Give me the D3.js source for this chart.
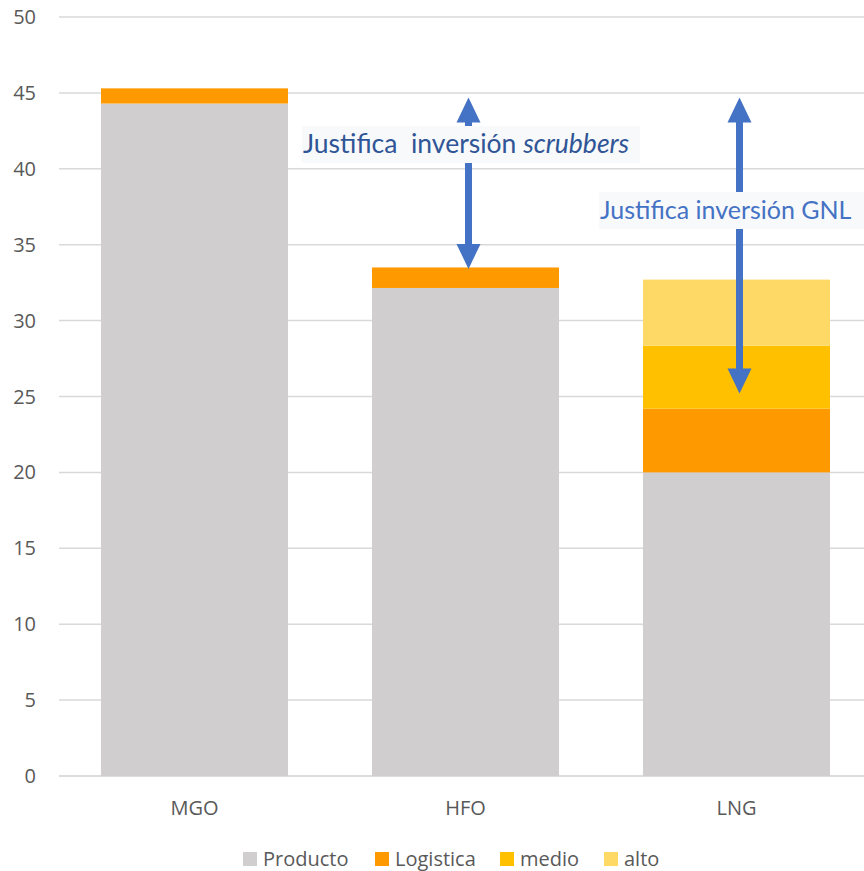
<!DOCTYPE html>
<html>
<head>
<meta charset="utf-8">
<script src="https://cdn.jsdelivr.net/npm/d3@7"></script>
<style>
  html, body { margin: 0; padding: 0; background: #ffffff; }
  svg { display: block; font-family: "Open Sans", "DejaVu Sans", sans-serif; }
</style>
</head>
<body>
<svg id="chart" width="864" height="871"></svg>
<script>
// Cost composition per fuel
const categories = ["MGO", "HFO", "LNG"];
const seriesNames = ["Producto", "Logistica", "medio", "alto"];
const producto  = [44.3, 32.15, 20.0];
const logistica = [1.0, 1.35, 4.2];
const medio     = [0, 0, 4.15];
const alto      = [0, 0, 4.35];
const yTicks = [0, 5, 10, 15, 20, 25, 30, 35, 40, 45, 50];
const colors = ["#d0cece", "#ff9900", "#ffc000", "#ffd966"];

// Annotation arrows: category, top value, bottom value
const arrowCats = ["HFO", "LNG"];
const arrowTop = [44.7, 44.7];
const arrowBottom = [33.4, 25.2];

const svg = d3.select("#chart");
const x = d3.scaleBand().domain(categories).range([59, 872]).paddingInner(0.31).paddingOuter(0.155);
const y = d3.scaleLinear().domain([0, 50]).range([776, 17]);

// Gridlines
svg.append("g").selectAll("line").data(yTicks).join("line")
  .attr("x1", 59).attr("x2", 872)
  .attr("y1", d => y(d)).attr("y2", d => y(d))
  .attr("stroke", d => d === 0 ? "#d0d0d0" : "#d9d9d9")
  .attr("stroke-width", 1.5);

// Y tick labels
svg.append("g").selectAll("text").data(yTicks).join("text")
  .attr("x", 36).attr("y", d => y(d))
  .attr("dy", "0.35em")
  .attr("text-anchor", "end")
  .attr("fill", "#595959")
  .attr("font-size", 20)
  .text(d => d);

// Stacked bars
const rows = categories.map((c, i) => ({
  cat: c, Producto: producto[i], Logistica: logistica[i], medio: medio[i], alto: alto[i]
}));
const stacked = d3.stack().keys(seriesNames)(rows);
svg.append("g").selectAll("g").data(stacked).join("g")
  .attr("fill", (d, i) => colors[i])
  .selectAll("rect").data(d => d.filter(p => p[1] - p[0] > 0)).join("rect")
  .attr("x", d => x(d.data.cat))
  .attr("width", x.bandwidth())
  .attr("y", d => y(d[1]))
  .attr("height", d => y(d[0]) - y(d[1]));

// Category labels
svg.append("g").selectAll("text").data(categories).join("text")
  .attr("x", d => x(d) + x.bandwidth() / 2)
  .attr("y", 808)
  .attr("dy", "0.35em")
  .attr("text-anchor", "middle")
  .attr("fill", "#595959")
  .attr("font-size", 20)
  .text(d => d);

// Double-headed arrows
const arrowColor = "#4472c4";
const headW = 12, headH = 25, shaftW = 7;
arrowCats.forEach((c, i) => {
  const cx = x(c) + x.bandwidth() / 2 + 3;
  const yt = y(arrowTop[i]), yb = y(arrowBottom[i]);
  const g = svg.append("g").attr("fill", arrowColor);
  g.append("rect").attr("x", cx - shaftW / 2).attr("y", yt + headH - 1)
    .attr("width", shaftW).attr("height", yb - yt - 2 * headH + 2);
  g.append("path").attr("d", `M${cx},${yt} L${cx + headW},${yt + headH} L${cx - headW},${yt + headH} Z`);
  g.append("path").attr("d", `M${cx},${yb} L${cx + headW},${yb - headH} L${cx - headW},${yb - headH} Z`);
});

// Annotation labels with light backgrounds
function label(xPos, yPos, w, color, size, parts) {
  svg.append("rect").attr("x", xPos).attr("y", yPos - 18).attr("width", w).attr("height", 37)
    .attr("fill", "#f8f9fa");
  const t = svg.append("text").attr("x", xPos + 1).attr("y", yPos).attr("dy", "0.35em")
    .attr("fill", color).attr("font-size", size).attr("font-family", "Lato, 'Open Sans', sans-serif");
  parts.forEach(p => t.append("tspan").attr("font-style", p[1] ? "italic" : "normal").text(p[0]));
}
label(302, 144, 338, "#2f5597", 26.5, [["Justifica\u00a0 inversión ", false], ["scrubbers", true]]);
label(599, 210, 265, "#4472c4", 25, [["Justifica inversión GNL", false]]);

// Legend
const legendX = [243, 375, 500, 604];
const lg = svg.append("g");
seriesNames.forEach((s, i) => {
  lg.append("rect").attr("x", legendX[i]).attr("y", 852).attr("width", 14).attr("height", 14)
    .attr("fill", colors[i]);
  lg.append("text").attr("x", legendX[i] + 20).attr("y", 859).attr("dy", "0.35em")
    .attr("fill", "#595959").attr("font-size", 20).text(s);
});
</script>
</body>
</html>
